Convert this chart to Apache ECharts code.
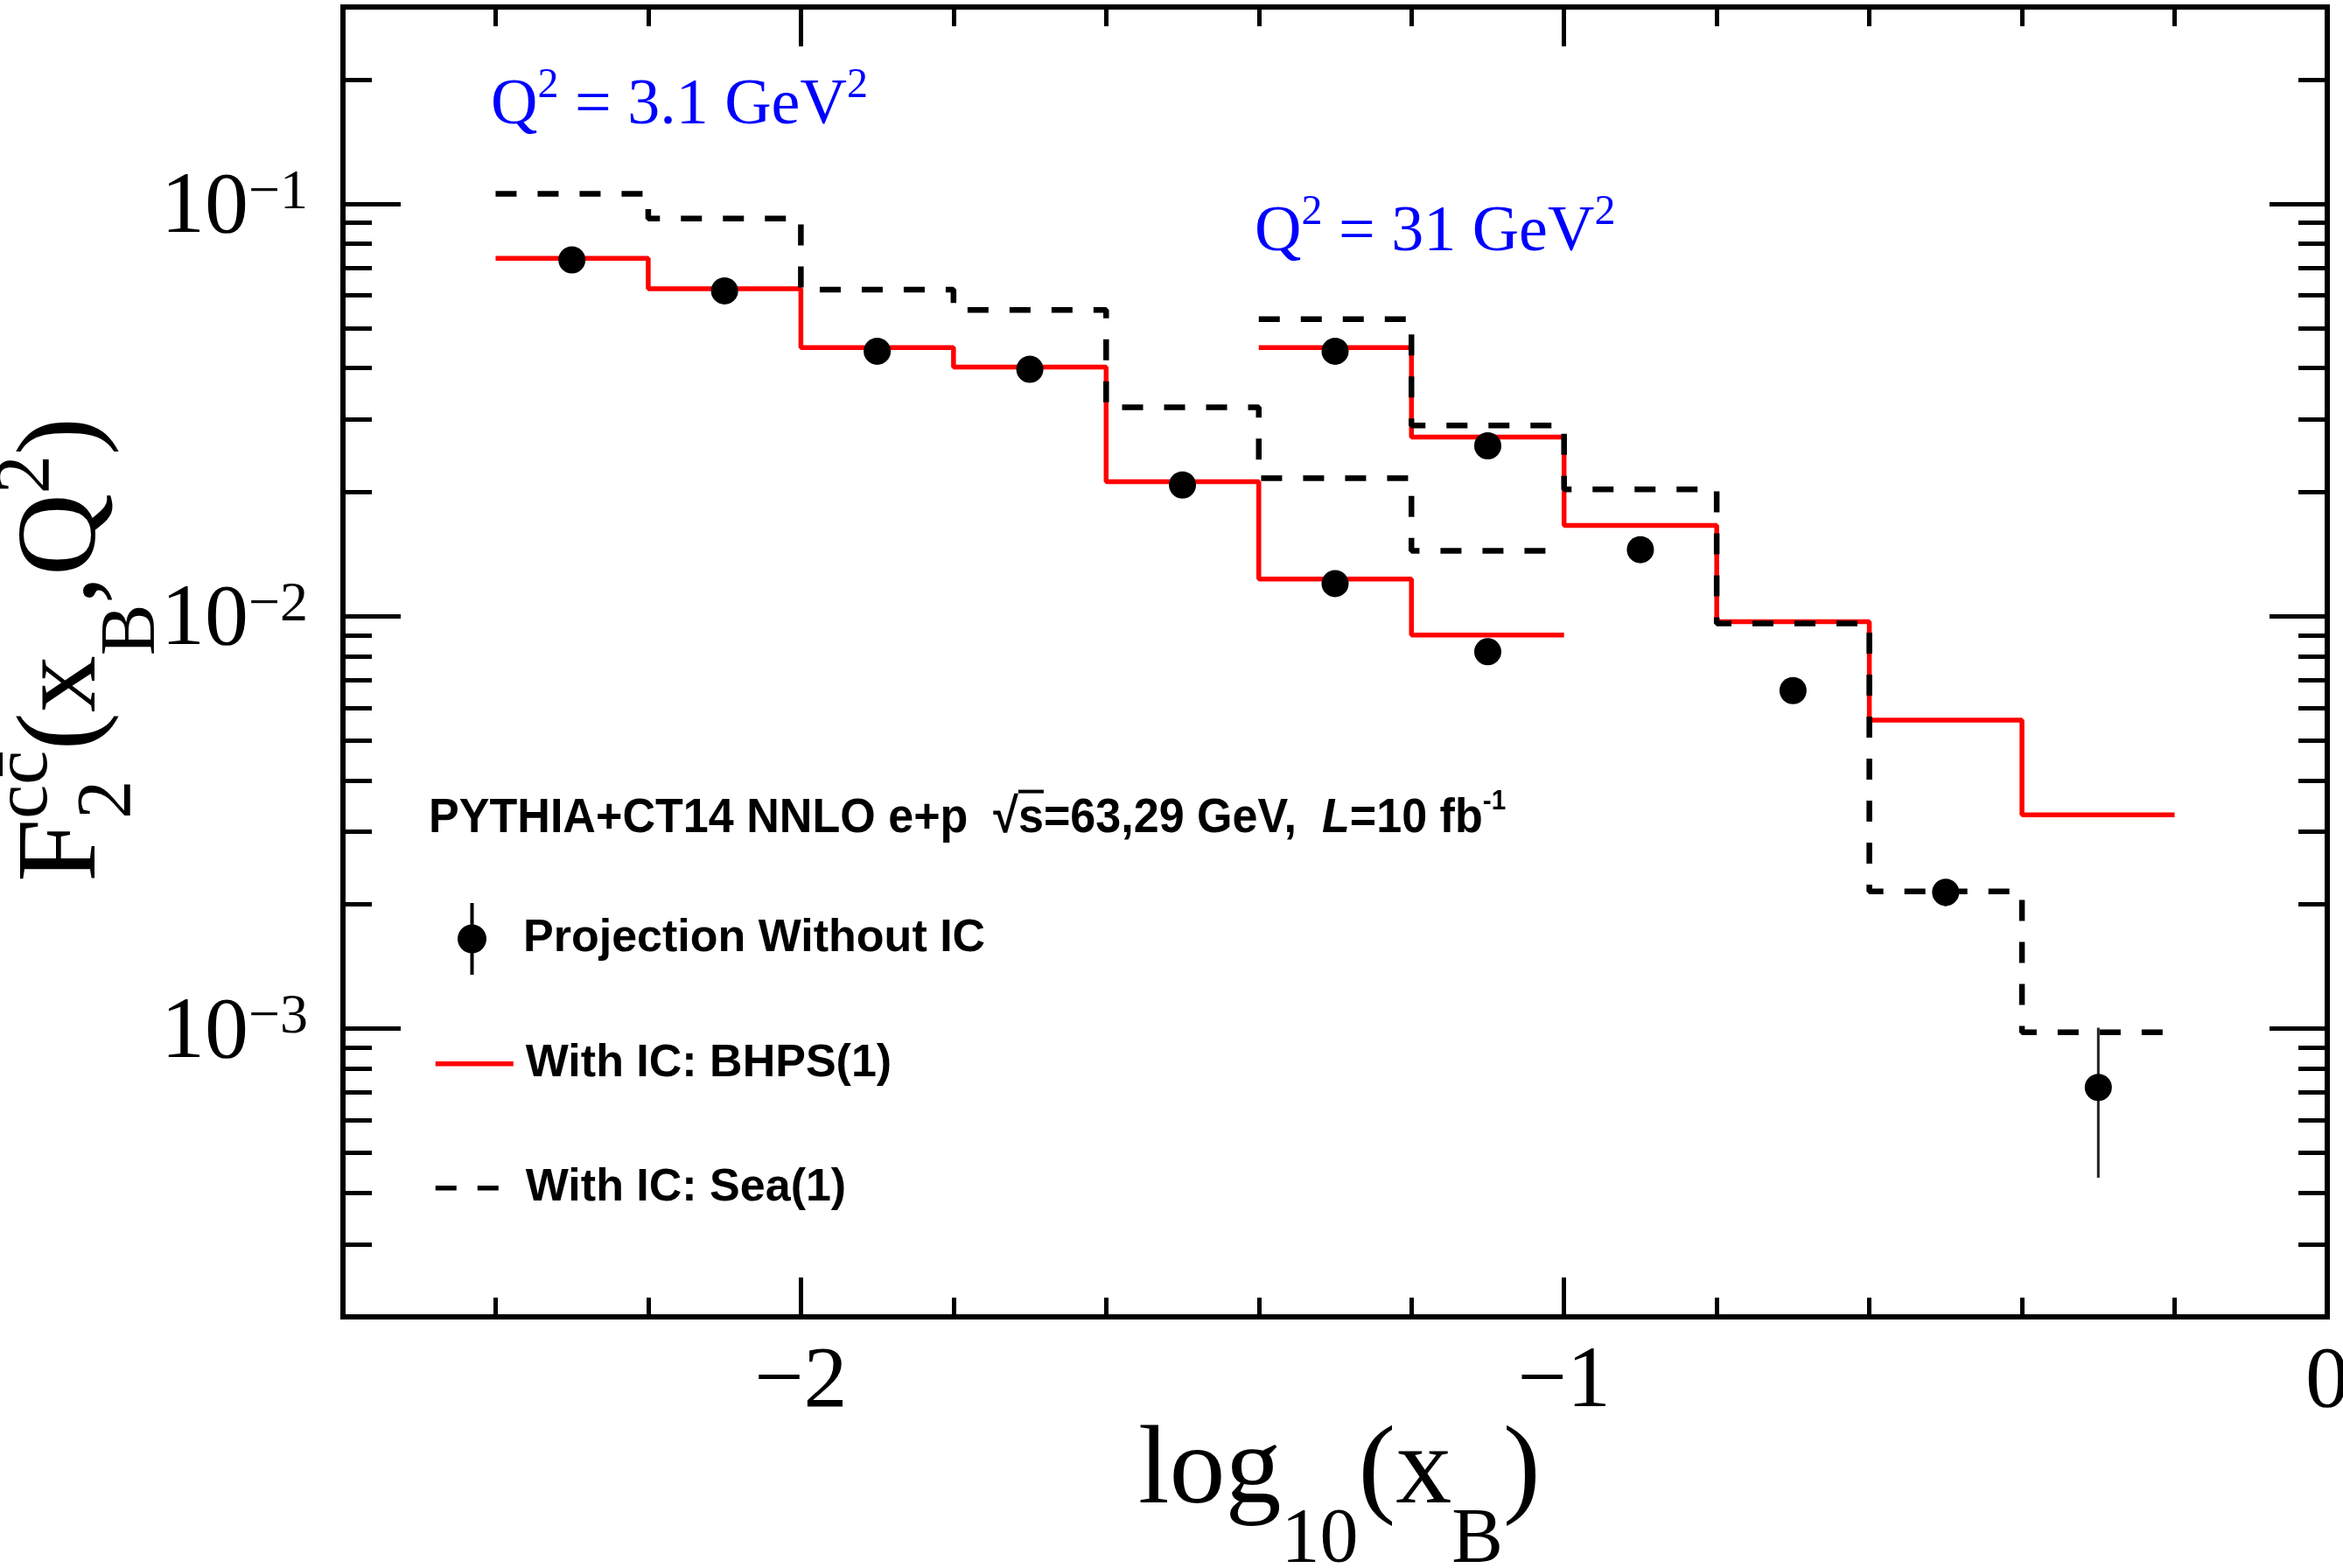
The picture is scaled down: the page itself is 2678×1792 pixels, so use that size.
<!DOCTYPE html>
<html>
<head>
<meta charset="utf-8">
<script src="https://cdn.jsdelivr.net/npm/echarts@6/dist/echarts.min.js"></script>
<style>
  html, body { margin: 0; padding: 0; background: #fff; }
  #chart { width: 2678px; height: 1792px; }
</style>
</head>
<body>
<div id="chart"></div>
<script>
// bin edges in log10(x_B)
const lowQ2Edges = [-2.4, -2.2, -2.0, -1.8, -1.6, -1.4, -1.2, -1.0];
const highQ2Edges = [-1.4, -1.2, -1.0, -0.8, -0.6, -0.4, -0.2];

// Q^2 = 3.1 GeV^2
const lowQ2Bhps = [0.0737, 0.0622, 0.0448, 0.0402, 0.0212, 0.0123, 0.0090];
const lowQ2Sea  = [0.1057, 0.0921, 0.0619, 0.0553, 0.0321, 0.0216, 0.0144];
const lowQ2Proj = [0.0731, 0.0615, 0.0439, 0.0397, 0.0208, 0.0120, 0.0082];
const lowQ2Err  = [0.0006, 0.0005, 0.0004, 0.0004, 0.0003, 0.0002, 0.0002];

// Q^2 = 31 GeV^2
const highQ2Bhps = [0.0448, 0.0272, 0.0166, 0.0097, 0.0056, 0.0033];
const highQ2Sea  = [0.0525, 0.0290, 0.0203, 0.0096, 0.00215, 0.00098];
const highQ2Proj = [0.0439, 0.0259, 0.0145, 0.0066, 0.00214, 0.00072];
const highQ2Err  = [0.0004, 0.0003, 0.0003, 0.0002, 0.00016, 0.000285];

// axis ranges and ticks
const xMin = -2.6, xMax = 0;
const yMin = 2e-4, yMax = 0.3;
const xMajorTicks = [-2, -1, 0];
const xMinorTicks = [-2.4, -2.2, -1.8, -1.6, -1.4, -1.2, -0.8, -0.6, -0.4, -0.2];
const yMajorTicks = [1e-3, 1e-2, 1e-1];
const yMinorTicks = [3e-4, 4e-4, 5e-4, 6e-4, 7e-4, 8e-4, 9e-4,
                     2e-3, 3e-3, 4e-3, 5e-3, 6e-3, 7e-3, 8e-3, 9e-3,
                     2e-2, 3e-2, 4e-2, 5e-2, 6e-2, 7e-2, 8e-2, 9e-2, 0.2];

const SERIF = 'Liberation Serif';
const SANS = 'Liberation Sans';
const RED = '#ff0000';
const BLUE = '#0000ff';

function stepData(edges, vals) {
  const d = [];
  vals.forEach(function (v, i) { d.push([edges[i], v], [edges[i + 1], v]); });
  return d;
}
function pointData(edges, vals, errs) {
  return vals.map(function (v, i) { return [(edges[i] + edges[i + 1]) / 2, v, errs[i]]; });
}
function stepSeries(name, edges, vals, dashed) {
  return {
    type: 'line', name: name, data: stepData(edges, vals),
    symbol: 'none', silent: true, z: dashed ? 3 : 2,
    lineStyle: { color: dashed ? '#000' : RED, width: dashed ? 6.5 : 5.5, type: dashed ? [24, 24] : 'solid' },
    itemStyle: { color: dashed ? '#000' : RED }
  };
}

// text made of pieces with sub/superscripts, laid out on a common baseline
const measure = document.createElement('canvas').getContext('2d');
function scriptPieces(pieces, family, mid, color) {
  const out = [];
  let x = 0, stackX = null, stackW = 0;
  pieces.forEach(function (p) {
    const font = (p.italic ? 'italic ' : 'normal ') + (p.bold ? 'bold ' : 'normal ') + p.size + 'px "' + family + '"';
    measure.font = font;
    const w = measure.measureText(p.text).width;
    const px = stackX !== null ? stackX : x;
    out.push({
      type: 'text', x: px, y: (p.dy || 0) - mid * p.size, silent: true,
      style: { text: p.text, font: font, fill: color, align: 'left', verticalAlign: 'middle',
               textAlign: 'left', textVerticalAlign: 'middle' }
    });
    if (p.over) {
      const oy = (p.dy || 0) - p.over * p.size;
      out.push({ type: 'line', silent: true, shape: { x1: px, y1: oy, x2: px + w, y2: oy },
                 style: { stroke: color, lineWidth: 4 } });
    }
    if (p.stack) { stackX = x; stackW = w; }
    else if (stackX !== null) { x = stackX + Math.max(stackW, w); stackX = null; }
    else { x += w; }
  });
  return out;
}

const yTitle = [
  { text: 'F', size: 130 },
  { text: 'cc\u0304', size: 88, dy: -58, stack: true },
  { text: '2', size: 88, dy: 37 },
  { text: '(x', size: 130 },
  { text: 'B', size: 88, dy: 64 },
  { text: ',Q', size: 130 },
  { text: '2', size: 88, dy: -56 },
  { text: ')', size: 130 }
];
const xTitle = [
  { text: 'log', size: 128 },
  { text: '10', size: 88, dy: 64 },
  { text: '(x', size: 128 },
  { text: 'B', size: 88, dy: 64 },
  { text: ')', size: 128 }
];
const q2Low = [
  { text: 'Q', size: 74 }, { text: '2', size: 48, dy: -32 },
  { text: ' = 3.1 GeV', size: 74 }, { text: '2', size: 48, dy: -32 }
];
const q2High = [
  { text: 'Q', size: 74 }, { text: '2', size: 48, dy: -32 },
  { text: ' = 31 GeV', size: 74 }, { text: '2', size: 48, dy: -32 }
];
const infoText = [
  { text: 'PYTHIA+CT14 NNLO e+p  \u221A', size: 56, bold: true },
  { text: 's', size: 56, bold: true, over: 0.9 },
  { text: '=63,29 GeV,  ', size: 56, bold: true },
  { text: 'L', size: 56, bold: true, italic: true },
  { text: '=10 fb', size: 56, bold: true },
  { text: '-1', size: 32, bold: true, dy: -28 }
];

function xAxisOf(position, ticks, len, withLabels) {
  return {
    type: 'value', min: xMin, max: xMax, position: position,
    axisLine: { show: false, onZero: false },
    splitLine: { show: false },
    axisTick: { show: true, inside: true, length: len, customValues: ticks,
                lineStyle: { color: '#000', width: 5 } },
    axisLabel: withLabels ? {
      show: true, customValues: ticks, margin: 26,
      fontFamily: SERIF, fontSize: 100, color: '#000',
      formatter: function (v) { return v === 0 ? '0' : '\u2212' + Math.abs(v); }
    } : { show: false }
  };
}
function yTickAxis(position, ticks, len) {
  return {
    type: 'value', min: Math.log10(yMin), max: Math.log10(yMax), position: position,
    axisLine: { show: false, onZero: false },
    splitLine: { show: false },
    axisLabel: { show: false },
    axisTick: { show: true, inside: true, length: len, customValues: ticks.map(Math.log10),
                lineStyle: { color: '#000', width: 5 } }
  };
}
// one legend box per entry so each row sits at its own height
function legendRow(left, top, item) {
  return {
    orient: 'vertical', left: left, top: top, padding: 0,
    itemWidth: 89, itemHeight: 82, selectedMode: false,
    lineStyle: { width: 5.5 },
    textStyle: { fontFamily: SANS, fontWeight: 'bold', fontSize: 52, color: '#000', padding: [0, 0, 0, 9] },
    data: [item]
  };
}

const lowPoints = pointData(lowQ2Edges, lowQ2Proj, lowQ2Err);
const highPoints = pointData(highQ2Edges, highQ2Proj, highQ2Err);
const allPoints = lowPoints.concat(highPoints);

const chart = echarts.init(document.getElementById('chart'), null, { renderer: 'canvas' });
chart.setOption({
  animation: false,
  backgroundColor: '#fff',
  grid: {
    left: 392, right: 18, top: 8, bottom: 287,
    show: true, borderColor: '#000', borderWidth: 6,
    containLabel: false, outerBoundsMode: 'none'
  },
  xAxis: [
    xAxisOf('bottom', xMajorTicks, 45, true),
    xAxisOf('bottom', xMinorTicks, 22, false),
    xAxisOf('top', xMajorTicks, 45, false),
    xAxisOf('top', xMinorTicks, 22, false)
  ],
  yAxis: [
    {
      type: 'log', logBase: 10, min: yMin, max: yMax, position: 'left',
      axisLine: { show: false, onZero: false },
      axisTick: { show: false },
      minorTick: { show: false },
      splitLine: { show: false },
      axisLabel: {
        show: true, margin: 40, padding: [12, 0, 0, 0],
        formatter: function (v) {
          const l = Math.log10(v);
          const e = Math.round(l);
          if (Math.abs(l - e) > 1e-6) return '';
          return '{b|10}{s|' + (e < 0 ? '\u2212' : '') + Math.abs(e) + '}';
        },
        rich: {
          b: { fontFamily: SERIF, fontSize: 100, lineHeight: 100, color: '#000', padding: [16, 0, 0, 0], verticalAlign: 'bottom' },
          s: { fontFamily: SERIF, fontSize: 64, lineHeight: 64, color: '#000', verticalAlign: 'top' }
        }
      }
    },
    yTickAxis('left', yMajorTicks, 66),
    yTickAxis('left', yMinorTicks, 33),
    yTickAxis('right', yMajorTicks, 66),
    yTickAxis('right', yMinorTicks, 33)
  ],
  legend: [
    legendRow(523, 1032, { name: 'Projection Without IC',
      icon: 'path://M14.5,0 H18.5 V82 H14.5 Z M0,41 A16.5,16.5 0 1,1 33,41 A16.5,16.5 0 1,1 0,41 Z' }),
    legendRow(495, 1183, { name: 'With IC: BHPS(1)', itemStyle: { opacity: 0 } }),
    legendRow(495, 1325, { name: 'With IC: Sea(1)', itemStyle: { opacity: 0 } })
  ],
  series: [
    stepSeries('With IC: BHPS(1)', lowQ2Edges, lowQ2Bhps, false),
    stepSeries('With IC: BHPS(1)', highQ2Edges, highQ2Bhps, false),
    stepSeries('With IC: Sea(1)', lowQ2Edges, lowQ2Sea, true),
    stepSeries('With IC: Sea(1)', highQ2Edges, highQ2Sea, true),
    {
      type: 'custom', name: 'errors', data: allPoints, z: 4, silent: true,
      encode: { x: 0, y: 1 },
      renderItem: function (params, api) {
        const x = api.value(0), v = api.value(1), e = api.value(2);
        const a = api.coord([x, v + e]);
        const b = api.coord([x, v - e]);
        return { type: 'line', shape: { x1: a[0], y1: a[1], x2: b[0], y2: b[1] },
                 style: { stroke: '#222', lineWidth: 3 } };
      }
    },
    {
      type: 'scatter', name: 'Projection Without IC', z: 5, silent: true,
      data: allPoints.map(function (p) { return [p[0], p[1]]; }),
      symbol: 'circle', symbolSize: 31,
      itemStyle: { color: '#000', opacity: 1 }
    }
  ],
  graphic: [
    { type: 'group', x: 118, y: 1008, rotation: Math.PI / 2, children: scriptPieces(yTitle, SERIF, 0.3375, '#000') },
    { type: 'group', x: 1301, y: 1727, children: scriptPieces(xTitle, SERIF, 0.3375, '#000') },
    { type: 'group', x: 561, y: 147, children: scriptPieces(q2Low, SERIF, 0.3375, BLUE) },
    { type: 'group', x: 1434, y: 292, children: scriptPieces(q2High, SERIF, 0.3375, BLUE) },
    { type: 'group', x: 490, y: 955, scaleX: 0.93, children: scriptPieces(infoText, SANS, 0.3465, '#000') }
  ]
});
window.addEventListener('resize', function () { chart.resize(); });
</script>
</body>
</html>
